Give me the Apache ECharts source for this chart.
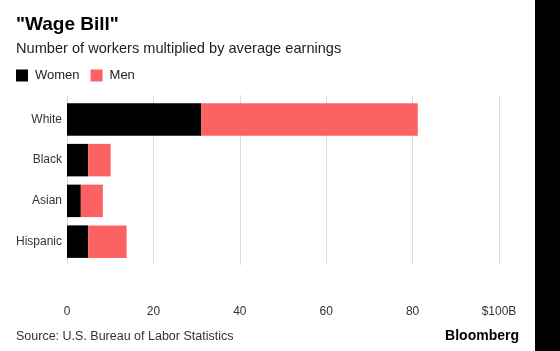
<!DOCTYPE html>
<html>
<head>
<meta charset="utf-8">
<script src="https://cdn.jsdelivr.net/npm/echarts@6/dist/echarts.min.js"></script>
<style>
  html, body { margin: 0; padding: 0; background: #fff; }
  #chart { width: 560px; height: 351px; }
</style>
</head>
<body>
<div id="chart"></div>
<script>
// values in $ billions
var categories = ['White', 'Black', 'Asian', 'Hispanic']
var women = [31.1, 4.9, 3.2, 4.9]
var men = [50.1, 5.2, 5.1, 8.9]
var xMax = 100
var xStep = 20

var font = '"Liberation Sans", Arial, sans-serif'

var chart = echarts.init(document.getElementById('chart'))
chart.setOption({
  animation: false,
  textStyle: { fontFamily: font },
  title: [
    {
      text: '"Wage Bill"',
      left: 16, top: 15, padding: 0,
      textStyle: { fontSize: 19, fontWeight: 'bold', color: '#000', lineHeight: 20, fontFamily: font }
    },
    {
      text: 'Number of workers multiplied by average earnings',
      left: 16, top: 41, padding: 0,
      textStyle: { fontSize: 14.6, fontWeight: 'normal', color: '#222', lineHeight: 16, fontFamily: font }
    },
    {
      text: 'Source: U.S. Bureau of Labor Statistics',
      left: 16, top: 330, padding: 0,
      textStyle: { fontSize: 12.5, fontWeight: 'normal', color: '#333', lineHeight: 14, fontFamily: font }
    },
    {
      text: 'Bloomberg',
      right: 41, top: 329, padding: 0,
      textStyle: { fontSize: 14, fontWeight: 'bold', color: '#000', lineHeight: 14, fontFamily: font }
    }
  ],
  legend: {
    left: 16, top: 69, padding: 0,
    icon: 'rect', itemWidth: 12, itemHeight: 12, itemGap: 11,
    textStyle: { fontSize: 13, color: '#222', padding: [0, 0, 0, 2] },
    data: ['Women', 'Men']
  },
  grid: [
    { left: 67, right: 61, top: 99, bottom: 89 },
    { left: 67, right: 61, top: 95, bottom: 86 }
  ],
  xAxis: [
    {
      gridIndex: 0, type: 'value', min: 0, max: xMax, interval: xStep,
      axisLabel: { show: false }, axisLine: { show: false }, axisTick: { show: false },
      splitLine: { show: false }
    },
    {
      gridIndex: 1, type: 'value', min: 0, max: xMax, interval: xStep,
      axisLine: { show: false }, axisTick: { show: false },
      splitLine: { show: true, lineStyle: { color: '#dcdcdc', width: 1 } },
      axisLabel: {
        margin: 41, fontSize: 12, color: '#333',
        formatter: function (v) { return v === xMax ? '$' + v + 'B' : v }
      }
    }
  ],
  yAxis: [
    {
      gridIndex: 0, type: 'category', data: categories, inverse: true,
      axisLine: { show: false }, axisTick: { show: false },
      axisLabel: { fontSize: 12, color: '#333', margin: 5 }
    },
    { gridIndex: 1, type: 'value', show: false }
  ],
  series: [
    {
      name: 'Women', type: 'bar', stack: 'total', barWidth: 32.5,
      xAxisIndex: 0, yAxisIndex: 0,
      itemStyle: { color: '#000' },
      data: women
    },
    {
      name: 'Men', type: 'bar', stack: 'total', barWidth: 32.5,
      xAxisIndex: 0, yAxisIndex: 0,
      itemStyle: { color: '#fd6262' },
      data: men
    }
  ],
  graphic: [
    { type: 'rect', left: 535, top: 0, shape: { width: 25, height: 351 }, style: { fill: '#000' } }
  ]
})
</script>
</body>
</html>
